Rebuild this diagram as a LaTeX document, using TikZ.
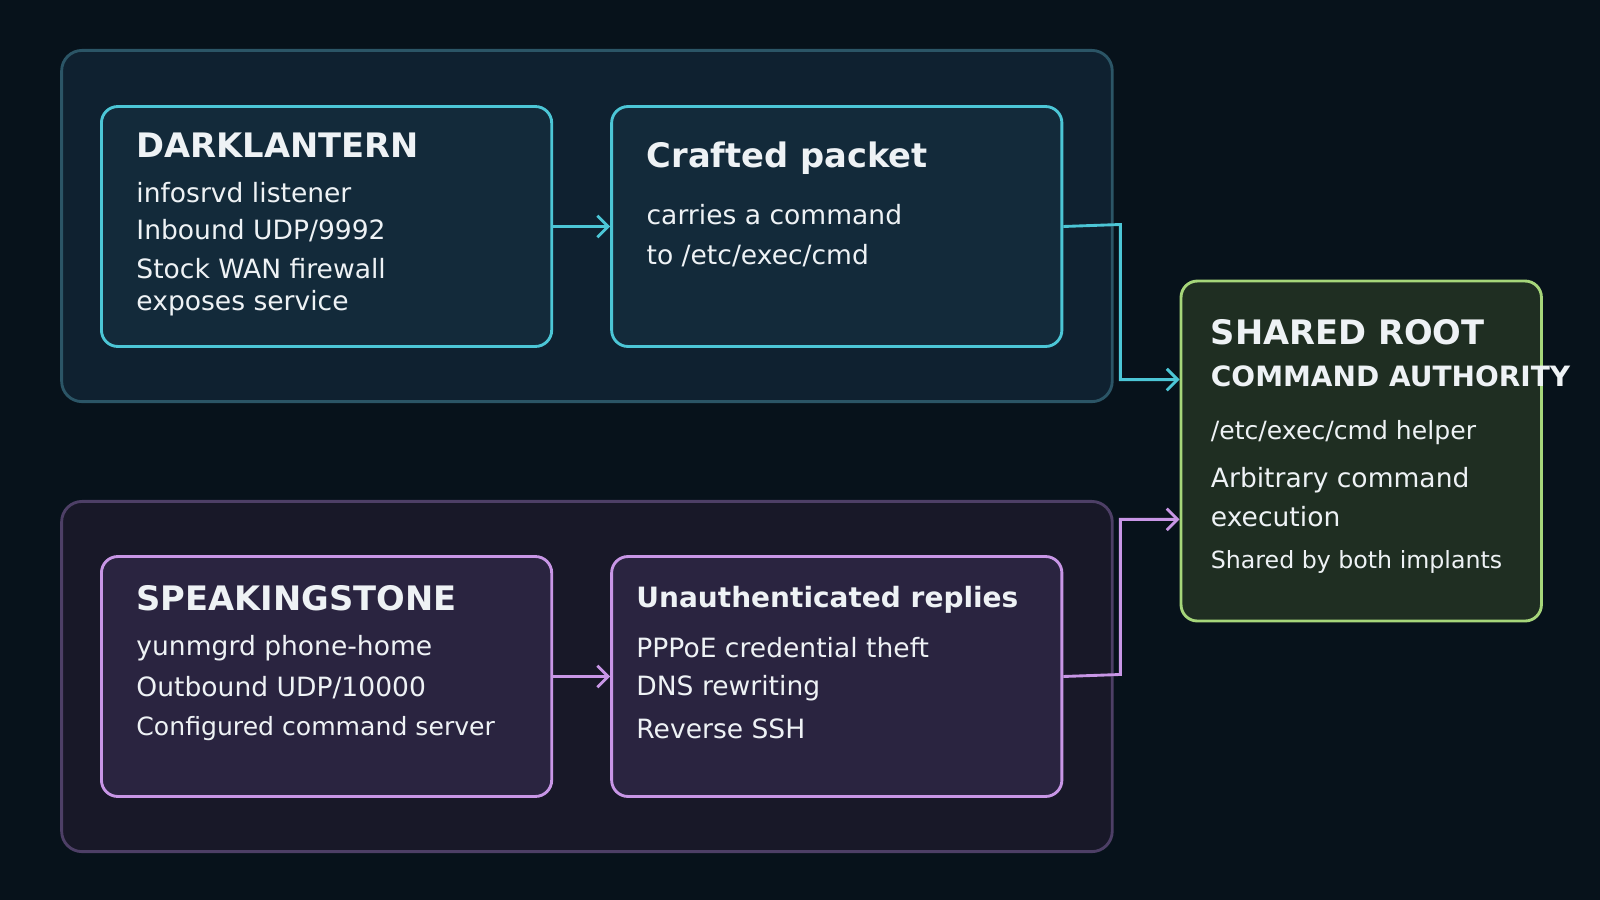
\documentclass[tikz,border=0pt]{standalone}
\usepackage{fontspec}
\setmainfont{DejaVu Sans}
\usetikzlibrary{arrows.meta}
\definecolor{bg}{HTML}{07121B}
\definecolor{gtfill}{HTML}{0F2130}\definecolor{gtdraw}{HTML}{2B5566}
\definecolor{itfill}{HTML}{132A3A}\definecolor{itdraw}{HTML}{4CC6D6}
\definecolor{gbfill}{HTML}{181828}\definecolor{gbdraw}{HTML}{4D3F66}
\definecolor{ibfill}{HTML}{2A2440}\definecolor{ibdraw}{HTML}{C896E6}
\definecolor{rfill}{HTML}{1F2E22}\definecolor{rdraw}{HTML}{A6D67A}
\definecolor{txt}{HTML}{EEF2F5}
\begin{document}
\begin{tikzpicture}[x=0.01cm,y=-0.01cm,
 box/.style={anchor=north west,inner sep=0pt,rounded corners=0.16cm,line width=0.8pt},
 grp/.style={box,rounded corners=0.2cm},
 ttl/.style={anchor=west,text=txt,font=\fontsize{9.4}{11}\selectfont\bfseries,inner sep=0pt},
 ttls/.style={anchor=west,text=txt,font=\fontsize{7.8}{9}\selectfont\bfseries,inner sep=0pt},
 body/.style={anchor=west,text=txt,font=\fontsize{7.4}{9}\selectfont,inner sep=0pt},
 small/.style={anchor=west,text=txt,font=\fontsize{6.6}{8}\selectfont,inner sep=0pt},
 conn/.style={line width=0.8pt,-{Straight Barb[length=3pt,width=6pt]}}]
\fill[bg] (0,0) rectangle (1568,882);
\useasboundingbox (0,0) rectangle (1568,882);
\node[grp,fill=gtfill,draw=gtdraw,minimum width=10.29cm,minimum height=3.44cm] (gt) at (59,48) {};
\node[grp,fill=gbfill,draw=gbdraw,minimum width=10.29cm,minimum height=3.43cm] (gb) at (59,490) {};
\node[box,fill=itfill,draw=itdraw,minimum width=4.41cm,minimum height=2.35cm] (dl) at (98,103) {};
\node[box,fill=itfill,draw=itdraw,minimum width=4.41cm,minimum height=2.35cm] (cp) at (598,103) {};
\node[box,fill=ibfill,draw=ibdraw,minimum width=4.41cm,minimum height=2.35cm] (ss) at (98,544) {};
\node[box,fill=ibfill,draw=ibdraw,minimum width=4.41cm,minimum height=2.35cm] (ur) at (598,544) {};
\node[box,fill=rfill,draw=rdraw,minimum width=3.53cm,minimum height=3.33cm] (sr) at (1156,274) {};
% text
\node[ttl] (t1) at (133,142) {DARKLANTERN};
\node[body] (t1a) at (133,189) {infosrvd listener};
\node[body] (t1b) at (133,226) {Inbound UDP/9992};
\node[body] (t1c) at (133,263) {Stock WAN firewall};
\node[body] (t1d) at (133,297) {exposes service};
\node[ttl] (t2) at (633,155) {Crafted packet};
\node[body] (t2a) at (633,210) {carries a command};
\node[body] (t2b) at (633,251) {to /etc/exec/cmd};
\node[ttl] (t3) at (133,586) {SPEAKINGSTONE};
\node[body] (t3a) at (133,635) {yunmgrd phone-home};
\node[body] (t3b) at (133,674) {Outbound UDP/10000};
\node[small,font=\fontsize{7}{8}\selectfont] (t3c) at (133,714) {Configured command server};
\node[ttls] (t4) at (623,588) {Unauthenticated replies};
\node[body] (t4a) at (623,635) {PPPoE credential theft};
\node[body] (t4b) at (623,674) {DNS rewriting};
\node[body] (t4c) at (623,714) {Reverse SSH};
\node[ttl] (t5) at (1186,326) {SHARED ROOT};
\node[ttls] (t5a) at (1186,369) {COMMAND AUTHORITY};
\node[small,font=\fontsize{7}{8}\selectfont] (t5b) at (1186,424) {/etc/exec/cmd helper};
\node[body] (t5c) at (1186,471) {Arbitrary command};
\node[body] (t5d) at (1186,506) {execution};
\node[small] (t5e) at (1186,551) {Shared by both implants};
% connectors
\coordinate (srin1) at (1156,372);
\coordinate (srin2) at (1156,509);
\coordinate (j1) at (1098,220);
\coordinate (j2) at (1098,661);
\draw[conn,itdraw] (dl.east) -- (cp.west);
\draw[conn,ibdraw] (ss.east) -- (ur.west);
\draw[conn,itdraw] (cp.east) -- (j1) |- (srin1);
\draw[conn,ibdraw] (ur.east) -- (j2) |- (srin2);
\end{tikzpicture}
\end{document}
